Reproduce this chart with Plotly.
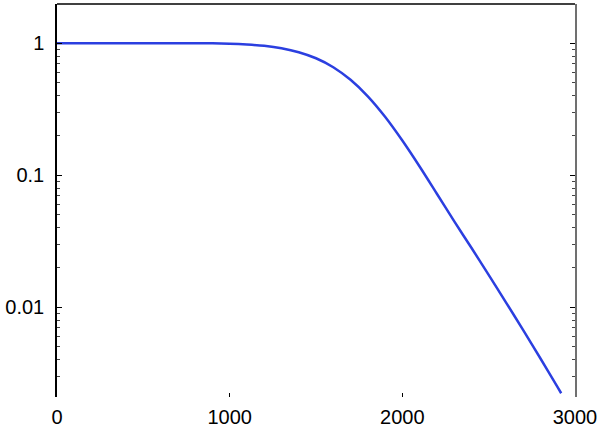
import plotly.graph_objects as go

x_vals = [0, 100, 200, 300, 400, 500, 600, 700, 800, 900, 1000, 1100, 1200, 1300,
          1400, 1500, 1600, 1700, 1800, 1900, 2000, 2100, 2200, 2300, 2400, 2500,
          2600, 2700, 2800, 2900, 2920]
y_vals = [1.0, 1.0, 1.0, 1.0, 1.0, 1.0, 1.0, 1.0, 1.0, 0.998, 0.991, 0.977, 0.955, 0.916,
          0.855, 0.769, 0.658, 0.528, 0.396, 0.277, 0.183, 0.1164, 0.0724, 0.0449, 0.0282,
          0.0176, 0.01089, 0.00671, 0.00409, 0.00247, 0.00223]

x_ticks = [0, 1000, 2000, 3000]
x_labels = ["0", "1000", "2000", "3000"]
y_ticks = [0.01, 0.1, 1]
y_labels = ["0.01", "0.1", "1"]

y_range = [-2.68, 0.297]

fig = go.Figure()
fig.add_trace(go.Scatter(x=x_vals, y=y_vals, mode="lines",
                         line=dict(color="#2b3fe0", width=2.5, shape="spline", smoothing=0.8),
                         showlegend=False, hoverinfo="skip"))
# empty trace so the right-hand mirror axis is drawn
fig.add_trace(go.Scatter(x=[None], y=[None], yaxis="y2", mode="lines",
                         showlegend=False, hoverinfo="skip"))

font = dict(family="Liberation Sans, Arial, sans-serif", size=20, color="black")

fig.update_layout(
    width=600, height=430,
    margin=dict(l=57, r=25, t=4, b=33),
    paper_bgcolor="white", plot_bgcolor="white",
    font=font,
    xaxis=dict(range=[0, 3000], tickmode="array", tickvals=x_ticks, ticktext=x_labels,
               ticks="inside", ticklen=4, tickcolor="black", tickwidth=1,
               showline=False, showgrid=False, zeroline=False,
               ticklabelstandoff=6, automargin=False),
    yaxis=dict(type="log", range=y_range, tickmode="array", tickvals=y_ticks,
               ticktext=y_labels, ticks="inside", ticklen=5, tickcolor="black",
               tickwidth=1, showline=True, linecolor="black", linewidth=1.5,
               showgrid=False, zeroline=False, ticklabelstandoff=7, automargin=False,
               minor=dict(ticks="inside", ticklen=3, tickcolor="#444", dtick="D1",
                          showgrid=False)),
    yaxis2=dict(type="log", range=y_range, overlaying="y", side="right", anchor="x",
                tickmode="array", tickvals=y_ticks, showticklabels=False,
                ticks="inside", ticklen=5, tickcolor="black", tickwidth=1,
                showline=True, linecolor="#707070", linewidth=1.5,
                showgrid=False, zeroline=False, automargin=False,
                minor=dict(ticks="inside", ticklen=3, tickcolor="#444", dtick="D1",
                           showgrid=False)),
    shapes=[dict(type="line", xref="paper", yref="paper", x0=0, x1=1, y0=1, y1=1,
                 line=dict(color="black", width=1.5))],
)

fig.write_html("out.html", config={"displayModeBar": False},
               post_script="document.body.style.margin='0';document.body.style.padding='0';")
